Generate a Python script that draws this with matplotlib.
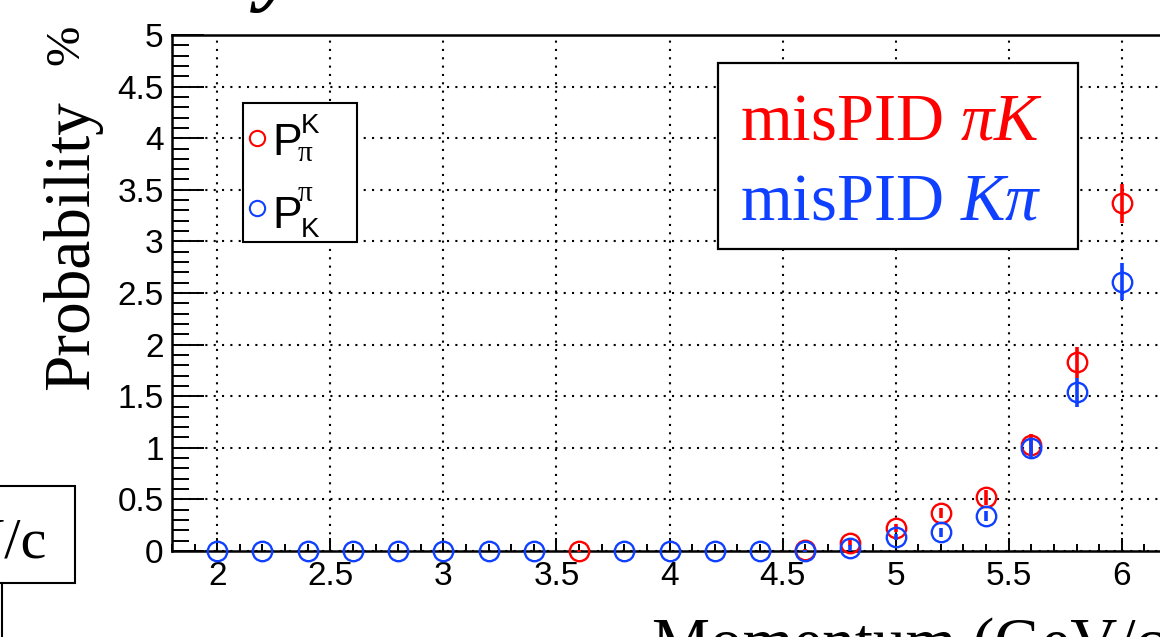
import matplotlib
matplotlib.use("Agg")
import matplotlib.pyplot as plt
from matplotlib.patches import Rectangle
from matplotlib.lines import Line2D
from matplotlib.ticker import MultipleLocator, FuncFormatter

# ---------------- data ----------------
red_x = [3.6, 4.6, 4.8, 5.0, 5.2, 5.4, 5.6, 5.8, 6.0]
red_y = [0.0, 0.01, 0.08, 0.22, 0.37, 0.52, 1.03, 1.83, 3.37]
red_err = [0.01, 0.01, 0.03, 0.04, 0.05, 0.07, 0.10, 0.15, 0.19]

blue_x = [2.0, 2.2, 2.4, 2.6, 2.8, 3.0, 3.2, 3.4, 3.8, 4.0, 4.2, 4.4, 4.6,
          4.8, 5.0, 5.2, 5.4, 5.6, 5.8, 6.0]
blue_y = [0, 0, 0, 0, 0, 0, 0, 0, 0, 0, 0, 0, 0,
          0.03, 0.135, 0.18, 0.34, 0.995, 1.54, 2.61]
blue_err = [0, 0, 0, 0, 0, 0, 0, 0, 0, 0, 0, 0, 0.01,
            0.03, 0.03, 0.04, 0.05, 0.10, 0.14, 0.18]

x_ticks = [2, 2.5, 3, 3.5, 4, 4.5, 5, 5.5, 6]
y_ticks = [0, 0.5, 1, 1.5, 2, 2.5, 3, 3.5, 4, 4.5, 5]

RED = "#ff0000"
BLUE = "#1040ff"

W, H = 1160, 637
plt.rcParams["mathtext.fontset"] = "custom"
plt.rcParams["mathtext.rm"] = "Liberation Serif"
plt.rcParams["mathtext.it"] = "Liberation Serif:italic"

fig = plt.figure(figsize=(W / 100, H / 100), dpi=100)


def fx(x):
    return x / W


def fy(y):
    return 1 - y / H


# axes: x 1.8 -> 6.2 spans px 172 -> 1167 ; y 0 -> 5 spans px 551 -> 35
ax = fig.add_axes([fx(172), fy(551), (1167 - 172) / W, (551 - 35) / H])
ax.set_xlim(1.8, 6.2)
ax.set_ylim(0, 5)

ax.set_xticks(x_ticks)
ax.set_yticks(y_ticks)
ax.xaxis.set_minor_locator(MultipleLocator(0.1))
ax.yaxis.set_minor_locator(MultipleLocator(0.1))
fmt = FuncFormatter(lambda v, p: "%g" % v)
ax.xaxis.set_major_formatter(fmt)
ax.yaxis.set_major_formatter(fmt)

ax.grid(True, which="major", color="black", linestyle=(0, (1, 3)), linewidth=1.5, zorder=0)
ax.set_axisbelow(True)

ax.tick_params(axis="x", which="major", direction="in", length=9.5, width=1.4,
               pad=7, labelsize=24)
ax.tick_params(axis="x", which="minor", direction="in", length=5, width=1.4)
ax.tick_params(axis="y", which="major", direction="in", length=23, width=1.4,
               pad=6, labelsize=24)
ax.tick_params(axis="y", which="minor", direction="in", length=12, width=1.4)
for lab in ax.get_xticklabels() + ax.get_yticklabels():
    lab.set_fontfamily("Liberation Sans")
for s in ax.spines.values():
    s.set_linewidth(1.8)

ax.errorbar(red_x, red_y, yerr=red_err, fmt="o", mfc="none", mec=RED, ecolor=RED,
            ms=14, mew=1.7, elinewidth=2.6, capsize=0, zorder=3, clip_on=False)
ax.errorbar(blue_x, blue_y, yerr=blue_err, fmt="o", mfc="none", mec=BLUE, ecolor=BLUE,
            ms=14, mew=1.7, elinewidth=2.6, capsize=0, zorder=4, clip_on=False)

# ---------------- legend box (P) ----------------
fig.add_artist(Rectangle((fx(243), fy(242)), (357 - 243) / W, (242 - 103) / H,
                         transform=fig.transFigure, facecolor="white",
                         edgecolor="black", linewidth=1.5, zorder=5))
for yy, c in [(138, RED), (208, BLUE)]:
    fig.add_artist(Line2D([fx(257)], [fy(yy)], marker="o", ms=11, mfc="none",
                          mec=c, mew=1.5, transform=fig.transFigure, zorder=6))
sans = "Liberation Sans"
serif = "Liberation Serif"
fig.text(fx(272), fy(155), "P", fontsize=32, family=sans, ha="left", va="baseline", zorder=6)
fig.text(fx(301), fy(133), "K", fontsize=20, family=sans, ha="left", va="baseline", zorder=6)
fig.text(fx(298), fy(161), "π", fontsize=21, family=serif, ha="left", va="baseline", zorder=6)
fig.text(fx(272), fy(228), "P", fontsize=32, family=sans, ha="left", va="baseline", zorder=6)
fig.text(fx(298), fy(201), "π", fontsize=21, family=serif, ha="left", va="baseline", zorder=6)
fig.text(fx(301), fy(237), "K", fontsize=20, family=sans, ha="left", va="baseline", zorder=6)

# ---------------- misPID box ----------------
fig.add_artist(Rectangle((fx(718), fy(249)), (1078 - 718) / W, (249 - 63) / H,
                         transform=fig.transFigure, facecolor="white",
                         edgecolor="black", linewidth=1.6, zorder=5))
fig.text(fx(740), fy(140), r"misPID $\pi K$", fontsize=48, family=serif, color=RED,
         ha="left", va="baseline", zorder=6)
fig.text(fx(740), fy(220), r"misPID $K\pi$", fontsize=48, family=serif, color=BLUE,
         ha="left", va="baseline", zorder=6)

# ---------------- axis titles ----------------
fig.text(fx(88), fy(390), "Probability", fontsize=47, family=serif, rotation=90,
         rotation_mode="anchor", ha="left", va="baseline")
fig.text(fx(78), fy(65), "%", fontsize=35, family=serif, rotation=90,
         rotation_mode="anchor", ha="left", va="baseline")
fig.text(fx(652), fy(663), "Momentum (GeV/c)", fontsize=47, family=serif,
         ha="left", va="baseline")

# ---------------- cropped neighbouring elements ----------------
fig.text(fx(259), fy(-6), "y", fontsize=64, family=serif, style="italic",
         weight="bold", ha="left", va="baseline")
fig.add_artist(Rectangle((fx(-120), fy(583)), (75 + 120) / W, (583 - 486) / H,
                         transform=fig.transFigure, facecolor="white",
                         edgecolor="black", linewidth=1.5))
fig.text(fx(47), fy(557), "GeV/c", fontsize=42, family=serif, ha="right", va="baseline")
fig.add_artist(Line2D([fx(2), fx(2)], [fy(583), fy(700)], color="black", lw=1.5,
                      transform=fig.transFigure))

fig.savefig("out.png", dpi=100)
